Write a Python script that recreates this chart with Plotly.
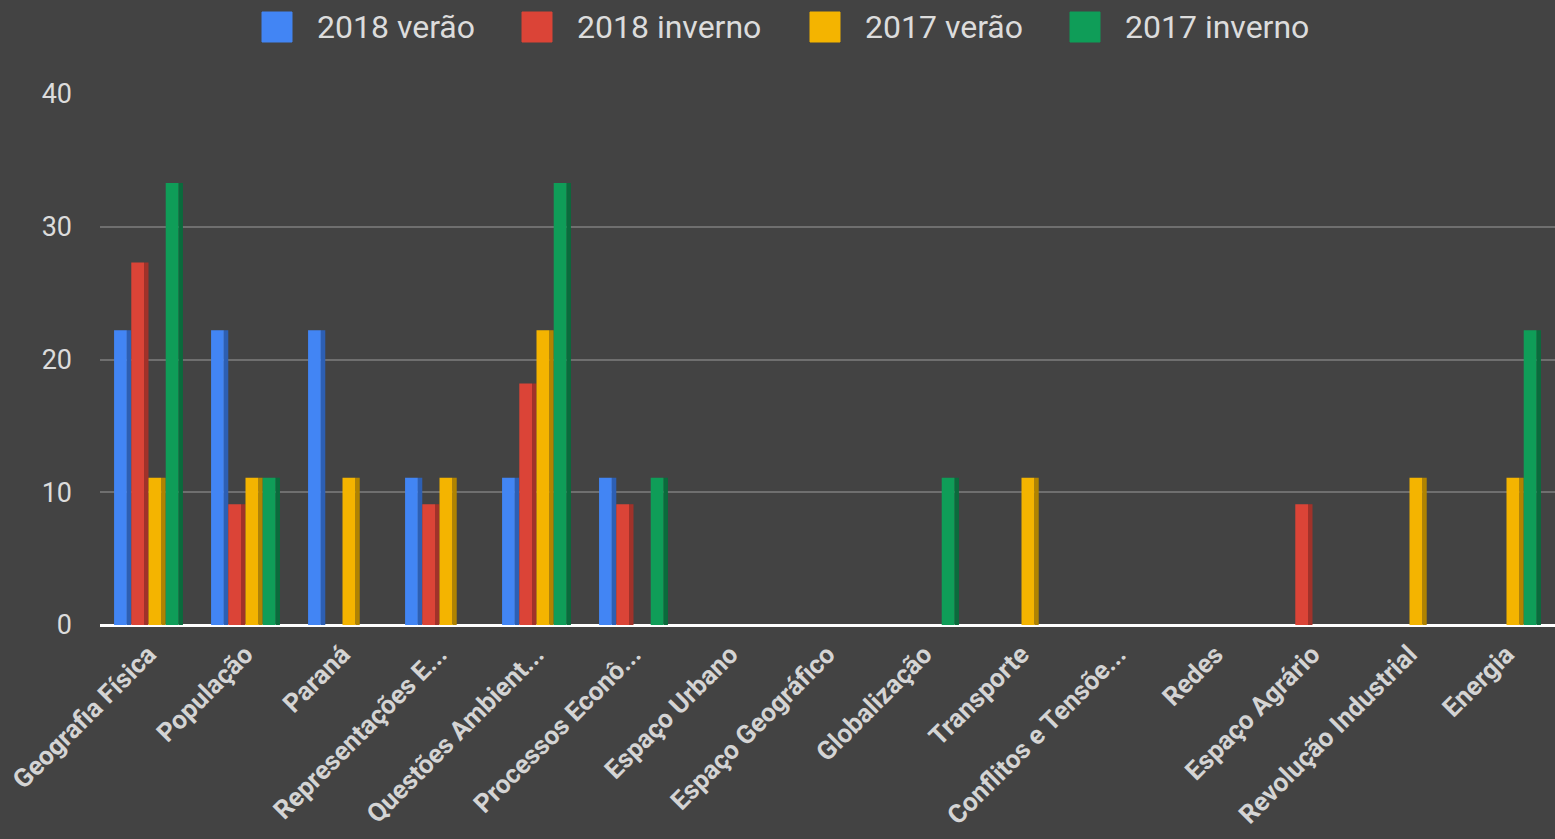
import plotly.graph_objects as go

categories = ["Geografia Física", "População", "Paraná", "Representações E...",
              "Questões Ambient...", "Processos Econô...", "Espaço Urbano",
              "Espaço Geográfico", "Globalização", "Transporte",
              "Conflitos e Tensõe...", "Redes", "Espaço Agrário",
              "Revolução Industrial", "Energia"]

series_names = ["2018 verão", "2018 inverno", "2017 verão", "2017 inverno"]
verao_2018 = [22.2, 22.2, 22.2, 11.1, 11.1, 11.1, None, None, None, None, None, None, None, None, None]
inverno_2018 = [27.3, 9.1, None, 9.1, 18.2, 9.1, None, None, None, None, None, None, 9.1, None, None]
verao_2017 = [11.1, 11.1, 11.1, 11.1, 22.2, None, None, None, None, 11.1, None, None, None, 11.1, 11.1]
inverno_2017 = [33.3, 11.1, None, None, 33.3, 11.1, None, None, 11.1, None, None, None, None, None, 22.2]
y_ticks = [0, 10, 20, 30, 40]

colors = ["#4285f4", "#db4437", "#f4b400", "#0f9d58"]
side_colors = ["#2d5fb3", "#a0322a", "#b08300", "#0a6b3c"]
all_series = [verao_2018, inverno_2018, verao_2017, inverno_2017]

# pixel geometry helpers (layout only)
W, H = 1555, 839
ML, MR, MT, MB = 100, 0, 94, 214
plot_w = W - ML - MR
plot_h = H - MT - MB

group_w = 0.71
slot = group_w / len(all_series)
front_w = slot * 0.74
side_w = slot * 0.26

fig = go.Figure()
for i, (name, vals, c, sc) in enumerate(zip(series_names, all_series, colors, side_colors)):
    off = -group_w / 2 + i * slot
    fig.add_trace(go.Bar(
        name=name + " (lado)", x=categories, y=vals, offset=off + front_w, width=side_w,
        marker=dict(color=sc, line=dict(width=0)), showlegend=False, hoverinfo="skip",
    ))
    fig.add_trace(go.Bar(
        name=name, x=categories, y=vals, offset=off, width=front_w,
        marker=dict(color=c, line=dict(width=0)), showlegend=False,
    ))

bg = "#434343"
fig.update_layout(
    width=W, height=H,
    paper_bgcolor=bg, plot_bgcolor=bg,
    barmode="overlay",
    margin=dict(l=ML, r=MR, t=MT, b=MB, autoexpand=False),
    font=dict(family="Roboto, Arial, sans-serif", color="#dcdcdc"),
    showlegend=False,
)
fig.update_yaxes(range=[0, 40], tickvals=y_ticks, showgrid=True,
                 gridcolor="#6f6f6f", gridwidth=2,
                 zeroline=True, zerolinecolor="#ffffff", zerolinewidth=3,
                 tickfont=dict(size=27, color="#dcdcdc"), ticklabelstandoff=27,
                 showline=False, automargin=False)
fig.update_xaxes(tickangle=-45, tickfont=dict(size=26, color="#d4d4d4",
                 family="Roboto, Arial, sans-serif", weight="bold"),
                 showgrid=False, showline=False, ticks="", ticklabelstandoff=8,
                 automargin=False)
fig.add_shape(type="line", xref="paper", yref="y", x0=-0.005, x1=1.0, y0=-0.35, y1=-0.35,
              line=dict(color="#e8e8e8", width=4), layer="above")

# custom legend with large squares
legend_x = [262, 522, 810, 1070]
legend_cy = 27
sq = 30
def px_x(p):
    return (p - ML) / plot_w
def px_y(p):
    return (H - MB - p) / plot_h
for name, c, lx in zip(series_names, colors, legend_x):
    fig.add_shape(type="rect", xref="paper", yref="paper",
                  x0=px_x(lx), x1=px_x(lx + sq), y0=px_y(legend_cy + sq / 2), y1=px_y(legend_cy - sq / 2),
                  fillcolor=c, line=dict(color=c, width=1))
    fig.add_annotation(text=name, xref="paper", yref="paper", x=px_x(lx + sq + 23), y=px_y(legend_cy),
                       xanchor="left", yanchor="middle", showarrow=False,
                       font=dict(size=32, color="#dcdcdc", family="Roboto, Arial, sans-serif"))

fig.write_html("out.html", config={"displayModeBar": False})

with open("out.html", "r", encoding="utf-8") as f:
    html = f.read()
html = html.replace("<head>", "<head><style>html,body{margin:0;padding:0;background:#434343;overflow:hidden}</style>", 1)
with open("out.html", "w", encoding="utf-8") as f:
    f.write(html)
